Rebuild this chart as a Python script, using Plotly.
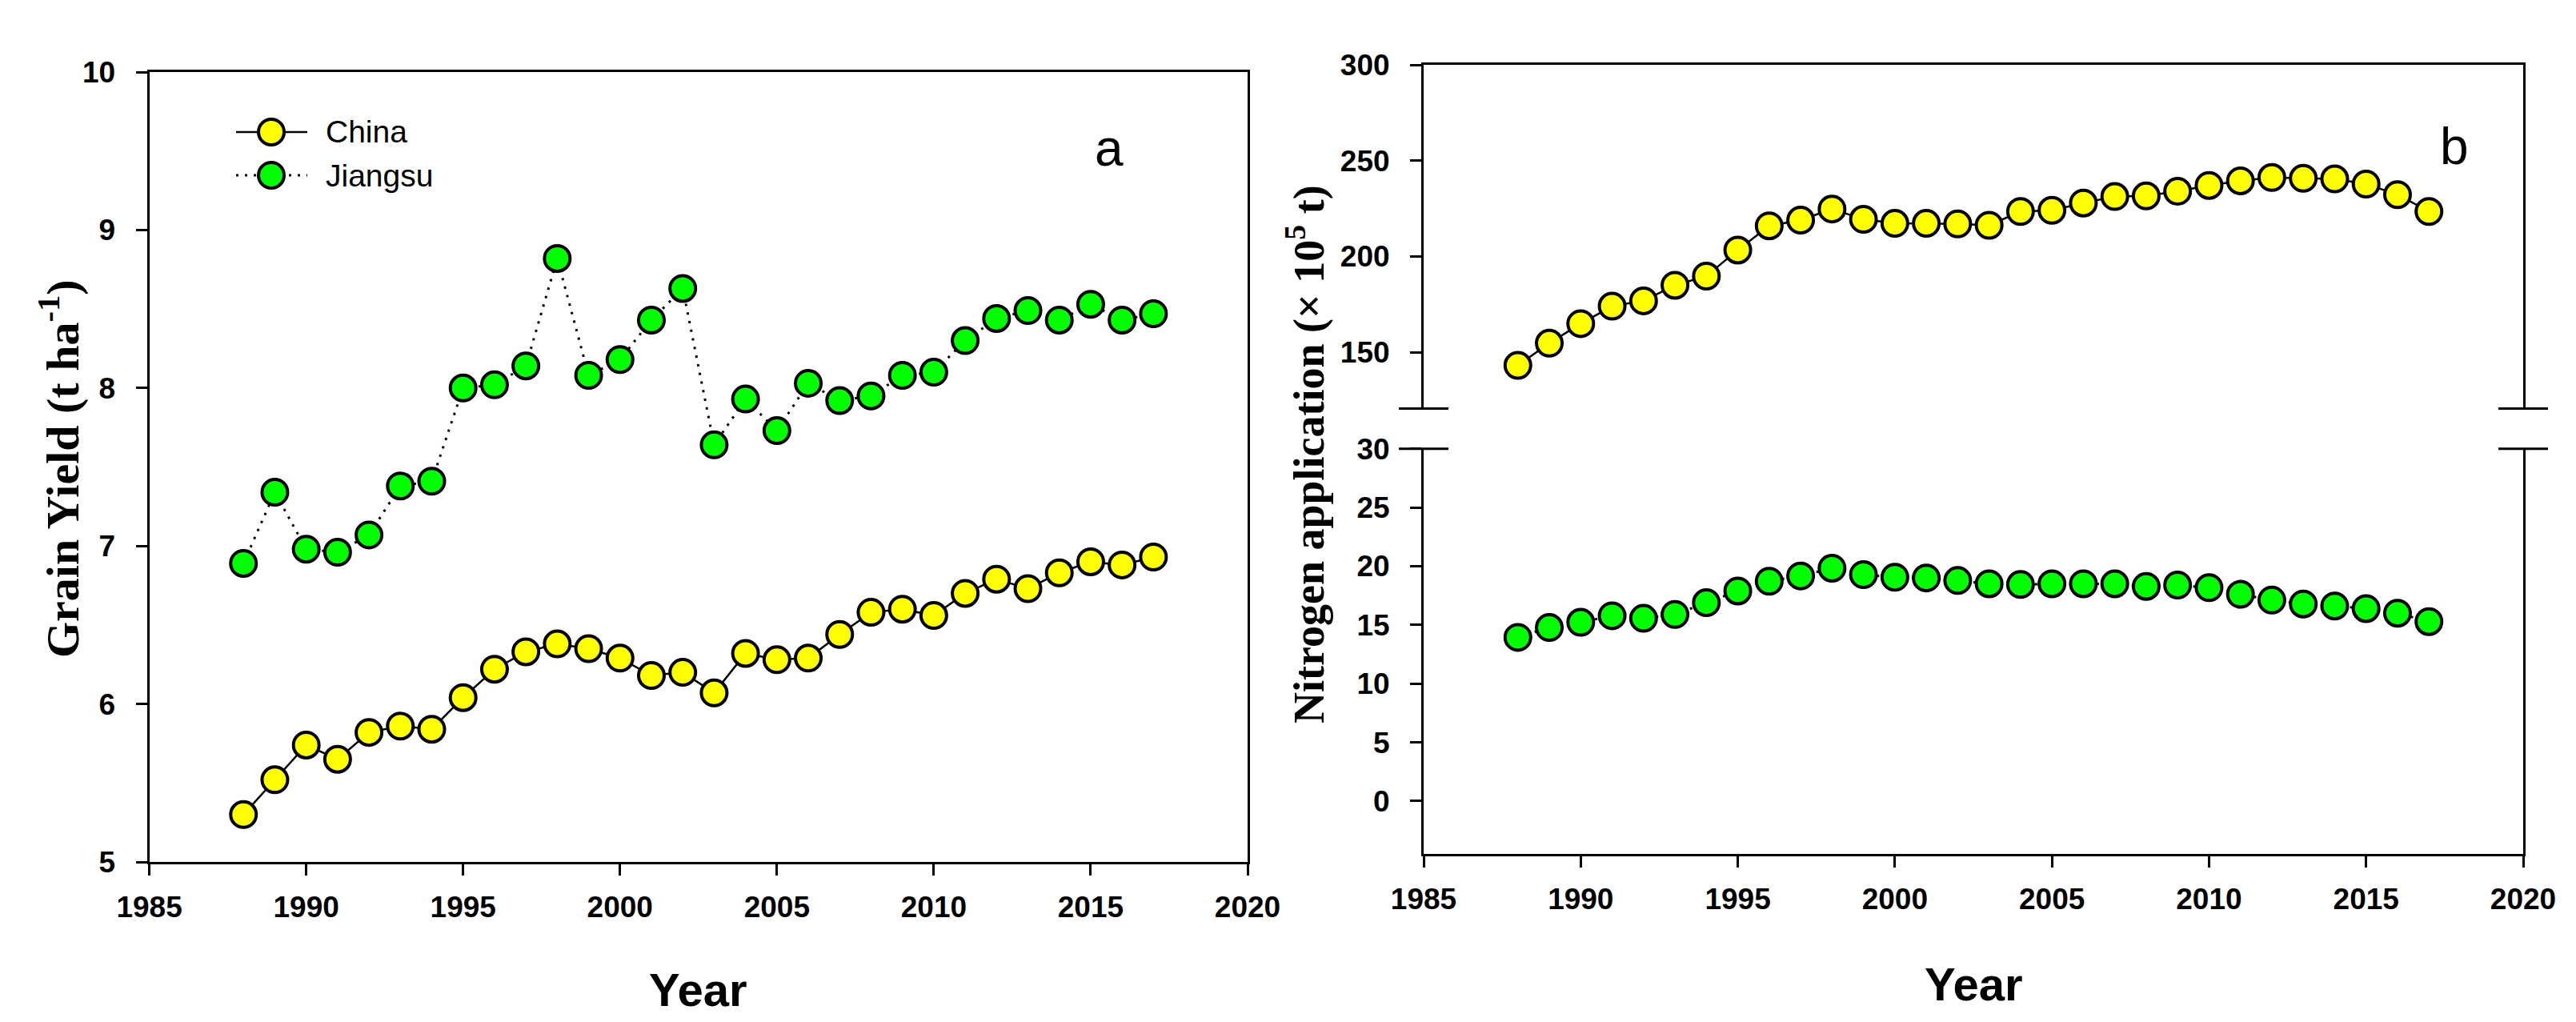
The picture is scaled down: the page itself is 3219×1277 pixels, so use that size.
import plotly.graph_objects as go

years = list(range(1988, 2018))

china_yield = [5.30, 5.52, 5.74, 5.65, 5.82, 5.86, 5.84, 6.04, 6.22, 6.33,
               6.38, 6.35, 6.29, 6.18, 6.20, 6.07, 6.32, 6.28, 6.29, 6.44,
               6.58, 6.60, 6.56, 6.70, 6.79, 6.73, 6.83, 6.90, 6.88, 6.93]
jiangsu_yield = [6.89, 7.34, 6.98, 6.96, 7.07, 7.38, 7.41, 8.00, 8.02, 8.14,
                 8.82, 8.08, 8.18, 8.43, 8.63, 7.64, 7.93, 7.73, 8.03, 7.92,
                 7.95, 8.08, 8.10, 8.30, 8.44, 8.49, 8.43, 8.53, 8.43, 8.47]
china_n = [143.2, 154.8, 165.0, 174.1, 176.9, 185.0, 189.8, 203.4, 216.0, 219.0,
           224.8, 219.4, 217.3, 217.3, 217.0, 216.3, 223.5, 224.1, 227.9, 231.3,
           231.6, 234.0, 237.1, 239.5, 241.2, 240.8, 240.5, 237.8, 232.3, 223.5]
jiangsu_n = [13.94, 14.78, 15.22, 15.78, 15.56, 15.89, 16.89, 17.89, 18.72, 19.17,
             19.83, 19.28, 19.06, 19.00, 18.78, 18.50, 18.44, 18.50, 18.50, 18.50,
             18.28, 18.39, 18.17, 17.61, 17.11, 16.78, 16.61, 16.39, 16.00, 15.28]
legend_names = ["China", "Jiangsu"]

W, H = 3219, 1277
YELLOW = "#FFFF00"
GREEN = "#00FF00"
DOT = "3px,8px"
TICKFONT = dict(family="Liberation Sans, Arial", size=37, color="black", weight="bold")

# panel domains (paper)
ax_a = [178.6 / W, 1551 / W]
ay_a = [1 - 1069 / H, 1 - 82 / H]
bx = [1771 / W, 3145 / W]
by_top = [1 - 502.5 / H, 1 - 73 / H]
by_bot = [1 - 1059 / H, 1 - 552.7 / H]

marker_common = dict(size=32, line=dict(color="black", width=4))

fig = go.Figure()
fig.add_trace(go.Scatter(
    x=years, y=china_yield, name="China", mode="lines+markers",
    line=dict(color="black", width=2.5),
    marker=dict(color=YELLOW, **marker_common), xaxis="x", yaxis="y"))
fig.add_trace(go.Scatter(
    x=years, y=jiangsu_yield, name="Jiangsu", mode="lines+markers",
    line=dict(color="black", width=3, dash=DOT),
    marker=dict(color=GREEN, **marker_common), xaxis="x", yaxis="y"))
fig.add_trace(go.Scatter(
    x=years, y=china_n, name="China", mode="lines+markers",
    line=dict(color="black", width=2.5),
    marker=dict(color=YELLOW, **marker_common), xaxis="x3", yaxis="y2"))
fig.add_trace(go.Scatter(
    x=years, y=jiangsu_n, name="Jiangsu", mode="lines+markers",
    line=dict(color="black", width=3, dash=DOT),
    marker=dict(color=GREEN, **marker_common), xaxis="x2", yaxis="y3"))

axis_common = dict(showline=True, linecolor="black", linewidth=3, ticks="outside",
                   ticklen=14, tickwidth=3, tickcolor="black", showgrid=False,
                   zeroline=False, tickfont=TICKFONT, automargin=False)

fig.update_layout(
    width=W, height=H, margin=dict(l=0, r=0, t=0, b=0, pad=0, autoexpand=False),
    paper_bgcolor="white", plot_bgcolor="white", showlegend=False,
    xaxis=dict(domain=ax_a, anchor="y", range=[1985, 2020], dtick=5, mirror=True,
               ticklabelstandoff=8, **axis_common),
    yaxis=dict(domain=ay_a, anchor="x", range=[5, 10], dtick=1, mirror=True,
               ticklabelstandoff=18, **axis_common),
    xaxis2=dict(domain=bx, anchor="y3", range=[1985, 2020], dtick=5,
                ticklabelstandoff=8, **axis_common),
    xaxis3=dict(domain=bx, anchor="y2", matches="x2", side="top", showline=True,
                linecolor="black", linewidth=3, ticks="", showticklabels=False,
                showgrid=False, zeroline=False, automargin=False),
    yaxis2=dict(domain=by_top, anchor="x3", range=[120.7, 300], tick0=150, dtick=50,
                mirror=True, ticklabelstandoff=18, **axis_common),
    yaxis3=dict(domain=by_bot, anchor="x2", range=[-4.5, 30], tick0=0, dtick=5,
                mirror=True, ticklabelstandoff=18, **axis_common),
)

# axis break marks on panel b
for xd in (bx[0], bx[1]):
    for yref, yv in (("y2 domain", 0), ("y3 domain", 1)):
        fig.add_shape(type="line", xref="paper", yref=yref,
                      x0=xd - 31 / W, x1=xd + 31 / W, y0=yv, y1=yv,
                      line=dict(color="black", width=3))

# legend (panel a), drawn as key symbols + labels
legend_styles = [(YELLOW, "solid", 2.5), (GREEN, DOT, 3)]
legend_rows_y = [157, 211]
for name, (col, dash, lw), ly in zip(legend_names, legend_styles, legend_rows_y):
    yp = 1 - ly / H
    fig.add_shape(type="line", xref="paper", yref="paper",
                  x0=287 / W, x1=376 / W, y0=yp, y1=yp,
                  line=dict(color="black", width=lw, dash=dash))
    fig.add_shape(type="circle", xref="paper", yref="paper",
                  xsizemode="pixel", ysizemode="pixel",
                  xanchor=331 / W, yanchor=yp, x0=-16, x1=16, y0=-16, y1=16,
                  fillcolor=col, line=dict(color="black", width=4))
    fig.add_annotation(text=name, xref="paper", yref="paper", x=397 / W, y=yp,
                       xanchor="left", yanchor="middle", showarrow=False,
                       font=dict(family="Liberation Sans, Arial", size=39, color="black"))

serif_bold = dict(family="Liberation Serif, Times New Roman", color="black", weight="bold")
sans_bold = dict(family="Liberation Sans, Arial", color="black", weight="bold")
annotations = [
    dict(text="Grain Yield (t ha<sup>-1</sup>)", x=66 / W, y=1 - 578 / H, textangle=-90,
         font=dict(size=58, **serif_bold)),
    dict(text="Nitrogen application (× 10<sup>5</sup> t)", x=1623 / W, y=1 - 560 / H, textangle=-90,
         font=dict(size=54, **serif_bold)),
    dict(text="Year", x=(ax_a[0] + ax_a[1]) / 2, y=1 - 1228 / H, font=dict(size=58, **sans_bold)),
    dict(text="Year", x=(bx[0] + bx[1]) / 2, y=1 - 1221 / H, font=dict(size=58, **sans_bold)),
    dict(text="a", x=1378 / W, y=1 - 177 / H, font=dict(family="Liberation Sans, Arial", size=64, color="black")),
    dict(text="b", x=3059 / W, y=1 - 175 / H, font=dict(family="Liberation Sans, Arial", size=64, color="black")),
]
for a in annotations:
    a.update(xref="paper", yref="paper", showarrow=False, xanchor="center", yanchor="middle")
    fig.add_annotation(**a)

fig.write_html("out.html")
